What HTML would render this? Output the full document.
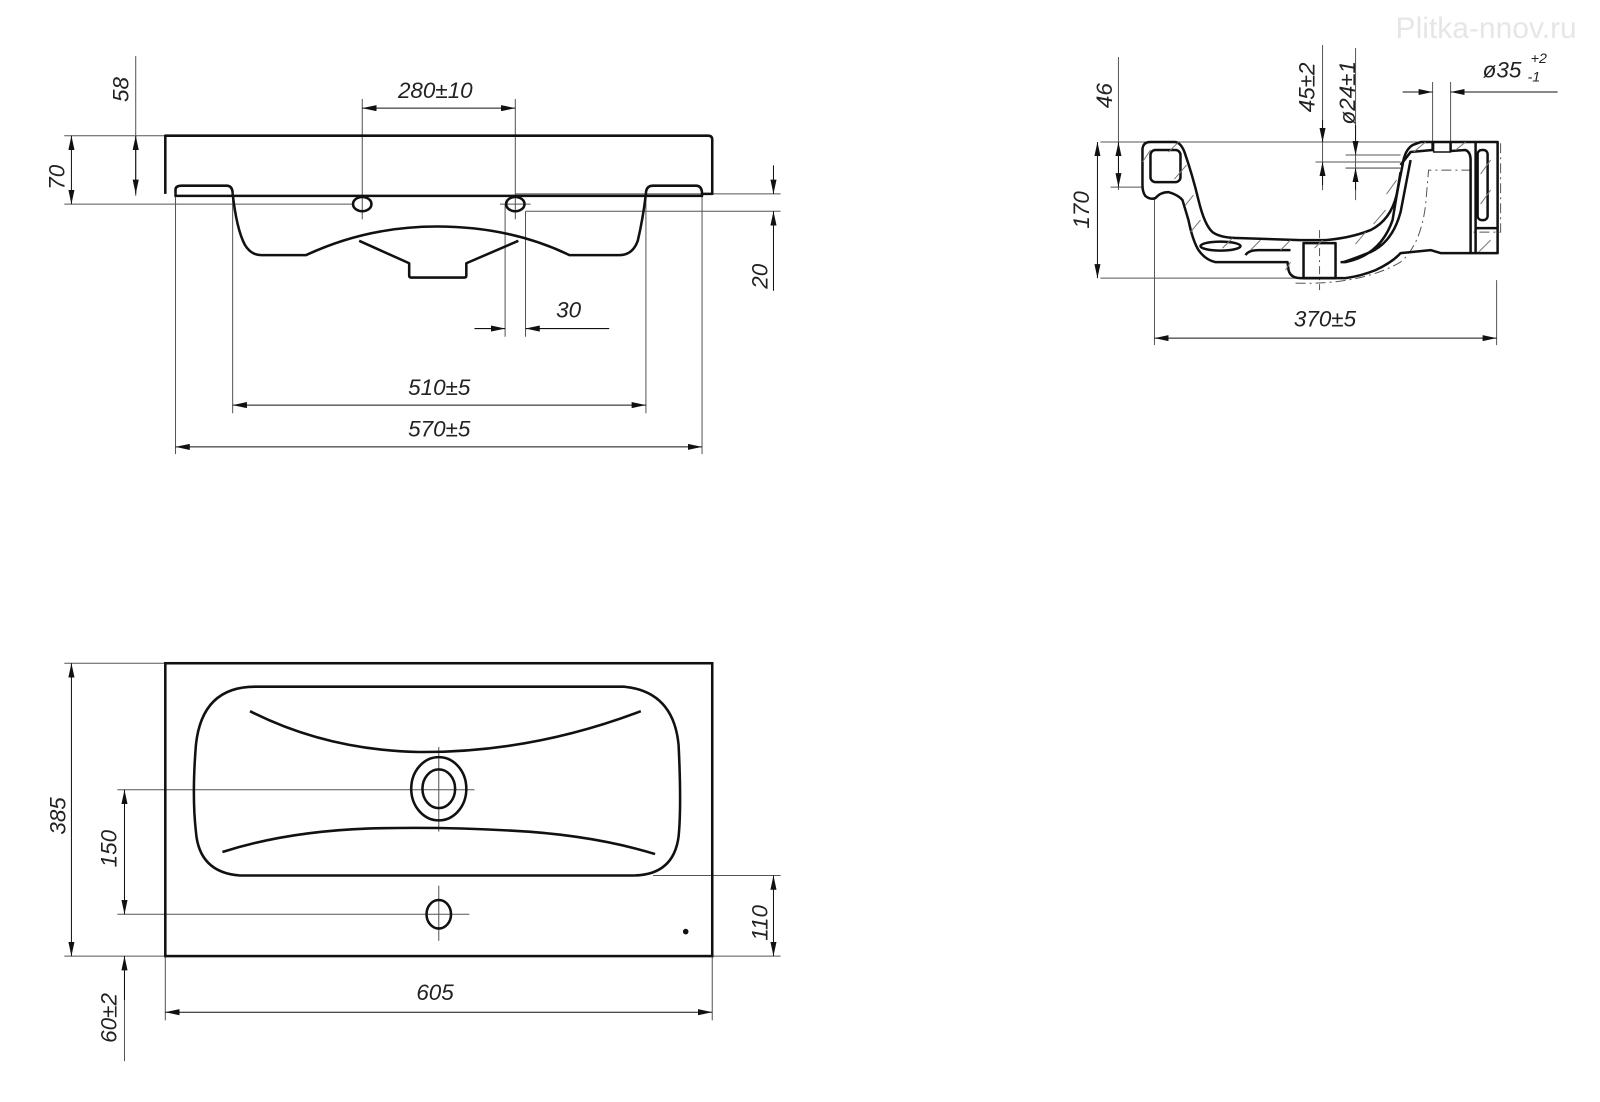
<!DOCTYPE html>
<html><head><meta charset="utf-8"><style>
html,body{margin:0;padding:0;background:#fff;}
svg{display:block;}
text{font-family:"Liberation Sans Narrow","Liberation Sans",sans-serif;font-style:italic;fill:#222;}
</style></head><body>
<svg width="1600" height="1102" viewBox="0 0 1568 1080" preserveAspectRatio="none" xmlns="http://www.w3.org/2000/svg">
<defs>
<marker id="a" viewBox="0 0 14 6" refX="14" refY="3" markerWidth="14" markerHeight="6" markerUnits="userSpaceOnUse" orient="auto-start-reverse"><path d="M0,0 L14,3 L0,6 z" fill="#111"/></marker>
</defs>
<g fill="none" stroke="#555" stroke-width="1">
<line x1="133" y1="55" x2="133" y2="192"/>
<line x1="133" y1="133" x2="133" y2="190" stroke="#111" marker-start="url(#a)" marker-end="url(#a)"/>
<line x1="63" y1="133" x2="162" y2="133"/>
<line x1="63" y1="200" x2="345" y2="200"/>
<line x1="70" y1="133" x2="70" y2="200" stroke="#111" marker-start="url(#a)" marker-end="url(#a)"/>
<line x1="355" y1="97" x2="355" y2="215"/>
<line x1="505" y1="97" x2="505" y2="215"/>
<line x1="355" y1="106" x2="505" y2="106" stroke="#111" marker-start="url(#a)" marker-end="url(#a)"/>
<line x1="490" y1="200" x2="520" y2="200"/>
<line x1="505" y1="190" x2="765" y2="190"/>
<line x1="515" y1="207" x2="765" y2="207"/>
<line x1="758" y1="162" x2="758" y2="190" stroke="#111" marker-end="url(#a)"/>
<line x1="758" y1="285" x2="758" y2="207" stroke="#111" marker-end="url(#a)"/>
<line x1="495" y1="200" x2="495" y2="330"/>
<line x1="515" y1="207" x2="515" y2="330"/>
<line x1="465" y1="322" x2="495" y2="322" stroke="#111" marker-end="url(#a)"/>
<line x1="597" y1="322" x2="515" y2="322" stroke="#111" marker-end="url(#a)"/>
<line x1="228" y1="192" x2="228" y2="405"/>
<line x1="633" y1="192" x2="633" y2="405"/>
<line x1="228" y1="397" x2="633" y2="397" stroke="#111" marker-start="url(#a)" marker-end="url(#a)"/>
<line x1="172" y1="192" x2="172" y2="445"/>
<line x1="688" y1="192" x2="688" y2="445"/>
<line x1="172" y1="438" x2="688" y2="438" stroke="#111" marker-start="url(#a)" marker-end="url(#a)"/>
<line x1="63" y1="650" x2="162" y2="650"/>
<line x1="63" y1="937" x2="765" y2="937"/>
<line x1="70" y1="650" x2="70" y2="937" stroke="#111" marker-start="url(#a)" marker-end="url(#a)"/>
<line x1="115" y1="774" x2="465" y2="774"/>
<line x1="115" y1="896" x2="460" y2="896"/>
<line x1="122" y1="774" x2="122" y2="896" stroke="#111" marker-start="url(#a)" marker-end="url(#a)"/>
<line x1="122" y1="937" x2="122" y2="1040"/>
<line x1="122" y1="980" x2="122" y2="937" stroke="#111" marker-end="url(#a)"/>
<line x1="640" y1="858" x2="765" y2="858"/>
<line x1="758" y1="858" x2="758" y2="937" stroke="#111" marker-start="url(#a)" marker-end="url(#a)"/>
<line x1="162" y1="937" x2="162" y2="1000"/>
<line x1="698" y1="937" x2="698" y2="1000"/>
<line x1="162" y1="992" x2="698" y2="992" stroke="#111" marker-start="url(#a)" marker-end="url(#a)"/>
<line x1="430" y1="732" x2="430" y2="815"/>
<line x1="430" y1="868" x2="430" y2="922"/>
</g>
<g fill="none" stroke="#111" stroke-width="2.5" stroke-linejoin="round">
<path d="M162,190 L162,133 L694,133 Q698,133 698,137 L698,190 L688,190"/>
<path d="M172,190 L172,186 Q172,182 178,182 L222,182 Q228,182 228,190"/>
<path d="M633,190 Q633,182 640,182 L682,182 Q688,182 688,190 L688,192 L172,192 L172,190"/>
<path d="M228,190 Q232,225 240,240 Q246,250 256,250 L300,250 Q360,222 428,222 Q500,222 558,250 L607,250 Q620,250 625,236 Q630,215 633,190"/>
<path d="M352,236 L401,258 L401,270 Q401,272 403,272 L455,272 Q457,272 457,270 L457,258 L508,236"/>
<ellipse cx="355" cy="200" rx="9" ry="7"/>
<ellipse cx="505" cy="200" rx="9" ry="7"/>
</g>
<g fill="none" stroke="#111" stroke-width="2.5">
<rect x="162" y="650" width="536" height="287"/>
<path d="M250,673 L612,673 Q660,678 665,730 Q668,790 665,820 Q660,858 620,858 L235,858 Q195,855 192,815 Q188,780 192,730 Q198,673 250,673 Z"/>
<path d="M245,697 Q320,735 410,737 Q520,738 628,697"/>
<path d="M218,835 Q280,815 360,812 Q430,810 500,814 Q580,818 642,837"/>
<ellipse cx="430" cy="773" rx="27" ry="31"/>
<ellipse cx="430" cy="773" rx="16" ry="19"/>
<ellipse cx="430" cy="896" rx="12" ry="14"/>
<circle cx="672" cy="913" r="1.5" fill="#111"/>
</g>
<g transform="scale(0.9804)">
<g fill="none" stroke="#555" stroke-width="1">
<line x1="1118" y1="57" x2="1118" y2="190"/>
<line x1="1100" y1="142" x2="1497" y2="142"/>
<line x1="1100" y1="278" x2="1300" y2="278"/>
<line x1="1110" y1="187" x2="1142" y2="187"/>
<line x1="1097" y1="142" x2="1097" y2="278" stroke="#111" marker-start="url(#a)" marker-end="url(#a)"/>
<line x1="1118" y1="142" x2="1118" y2="187" stroke="#111" marker-start="url(#a)" marker-end="url(#a)"/>
<line x1="1322" y1="45" x2="1322" y2="190"/>
<line x1="1322" y1="120" x2="1322" y2="142" stroke="#111" marker-end="url(#a)"/>
<line x1="1322" y1="185" x2="1322" y2="162" stroke="#111" marker-end="url(#a)"/>
<line x1="1355" y1="48" x2="1355" y2="200"/>
<line x1="1355" y1="125" x2="1355" y2="155" stroke="#111" marker-end="url(#a)"/>
<line x1="1355" y1="190" x2="1355" y2="168" stroke="#111" marker-end="url(#a)"/>
<line x1="1315" y1="162" x2="1400" y2="162"/>
<line x1="1345" y1="155" x2="1400" y2="155"/>
<line x1="1345" y1="168" x2="1400" y2="168"/>
<line x1="1432" y1="82" x2="1432" y2="145"/>
<line x1="1450" y1="82" x2="1450" y2="145"/>
<line x1="1402" y1="92" x2="1432" y2="92" stroke="#111" marker-end="url(#a)"/>
<line x1="1557" y1="92" x2="1450" y2="92" stroke="#111" marker-end="url(#a)"/>
<line x1="1154" y1="197" x2="1154" y2="345"/>
<line x1="1496" y1="280" x2="1496" y2="345"/>
<line x1="1154" y1="338" x2="1496" y2="338" stroke="#111" marker-start="url(#a)" marker-end="url(#a)"/>
<line x1="1319" y1="230" x2="1319" y2="290" stroke-dasharray="8,4,2,4"/>
<path d="M1295,283 Q1360,285 1400,262 Q1420,245 1425,205 L1428,170 L1470,170 L1470,232 L1500,232 L1500,142" stroke-dasharray="10,4,2,4"/>
</g>
<g fill="none" stroke="#111" stroke-width="2.5" stroke-linejoin="round">
<path d="M1142,150 Q1142,142 1150,142 L1174,142 Q1180,142 1184,152 Q1192,175 1198,200 Q1204,225 1212,232 Q1220,238 1240,238 L1300,240 L1325,240 Q1350,238 1370,230 Q1390,220 1396,195 L1402,165 Q1404,150 1412,145 L1420,142 L1497,142 L1497,253 L1440,253 L1430,250 L1400,253 Q1392,262 1375,270 Q1360,276 1345,278 L1300,278 Q1290,278 1288,270 L1287,262 L1215,262 Q1205,260 1198,250 Q1192,240 1188,220 L1182,200 Q1178,195 1168,192 Q1160,192 1155,198 Q1150,200 1145,196 Q1142,192 1142,185 Z"/>
<rect x="1150" y="150" width="30" height="32" rx="5"/>
<path d="M1400,165 L1410,152 L1432,150 L1432,142 M1450,142 L1450,151 L1465,150 Q1470,152 1470,160 L1470,253"/>
<rect x="1477" y="150" width="10" height="70" rx="4"/>
<line x1="1475" y1="228" x2="1497" y2="228"/>
<line x1="1475" y1="142" x2="1475" y2="253"/>
<path d="M1400,172 L1392,220 Q1380,255 1345,262 L1340,262 M1410,160 L1400,212 Q1392,242 1370,252 Q1355,258 1343,262"/>
<rect x="1303" y="243" width="32" height="35"/>
<ellipse cx="1220" cy="246" rx="20" ry="4.5"/>
<path d="M1245,255 Q1248,250 1258,250 L1290,250"/>
<rect x="1433" y="142" width="17" height="10" stroke-width="1.5"/>
</g>
<g stroke="#777" stroke-width="1">
<path d="M1150,150 l-8,12 M1178,142 l-10,10 M1186,165 l-12,14 M1193,195 l-8,10 M1200,220 l-10,12 M1232,238 l-10,10 M1260,240 l-10,10 M1290,240 l-10,10 M1322,240 l-8,8 M1290,262 l-5,8 M1365,232 l-10,12 M1385,210 l-12,14 M1396,180 l-10,14 M1425,142 l-12,10 M1465,142 l-10,8 M1490,160 l-10,14 M1490,190 l-10,14 M1490,240 l-12,12"/>
</g>
<text x="1395" y="38" font-size="30" style="fill:#e6e6e6;font-style:normal;font-family:'Liberation Sans',sans-serif">Plitka-nnov.ru</text>
</g>
<g font-size="22">
<text transform="translate(126,100) rotate(-90)">58</text>
<text transform="translate(63,186) rotate(-90)">70</text>
<text x="390" y="96">280±10</text>
<text transform="translate(752,283) rotate(-90)">20</text>
<text x="545" y="311">30</text>
<text x="400" y="387">510±5</text>
<text x="400" y="428">570±5</text>
<text transform="translate(1090,106) rotate(-90)">46</text>
<text transform="translate(1067,224) rotate(-90)">170</text>
<text transform="translate(1288,110) rotate(-90)">45±2</text>
<text transform="translate(1328,122) rotate(-90)">ø24±1</text>
<text x="1453" y="76">ø35</text>
<text x="1500" y="62" font-size="14">+2</text>
<text x="1497" y="80" font-size="14">-1</text>
<text x="1268" y="320">370±5</text>
<text transform="translate(64,818) rotate(-90)">385</text>
<text transform="translate(114,850) rotate(-90)">150</text>
<text transform="translate(114,1022) rotate(-90)">60±2</text>
<text transform="translate(752,922) rotate(-90)">110</text>
<text x="408" y="980">605</text>
</g>
</svg>
</body></html>
